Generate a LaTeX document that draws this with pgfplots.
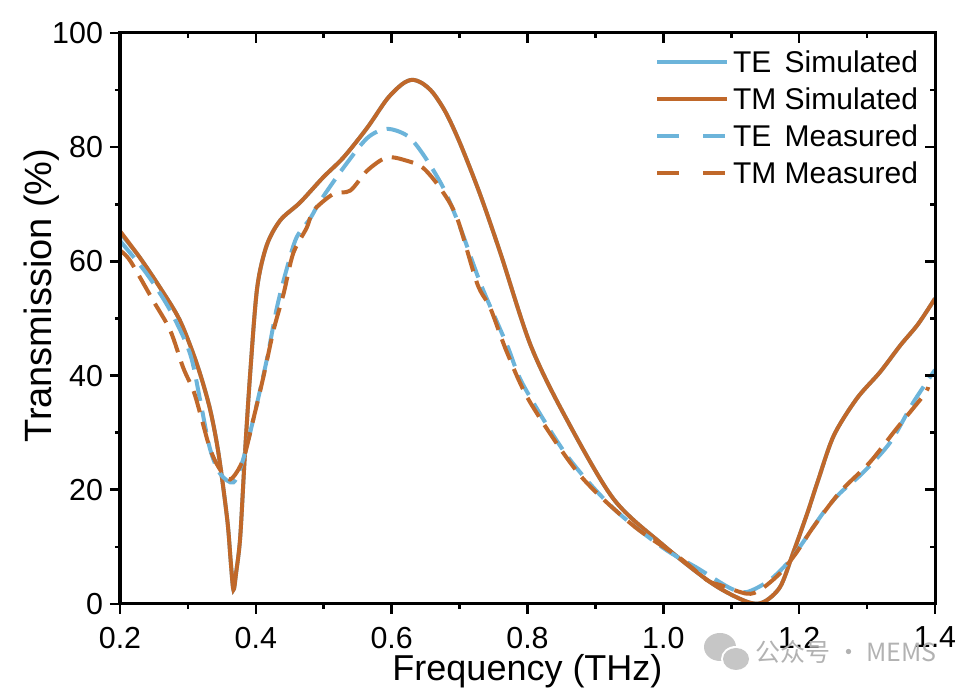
\documentclass[border=0pt]{standalone}
\usepackage{fontspec}
\setmainfont{Liberation Sans}
\newfontfamily\cjk{Noto Sans CJK SC}
\usepackage{pgfplots}
\pgfplotsset{compat=1.18}
\definecolor{tmor}{HTML}{C0682A}
\definecolor{teblue}{HTML}{6CB4DA}

\pgfplotstableread{
x y
0.200 65.3
0.229 60.7
0.259 55.4
0.288 49.7
0.313 42.1
0.332 34.4
0.345 26.4
0.358 14.7
0.363 7.5
0.367 2.5
0.371 5.5
0.377 11.7
0.384 26.4
0.392 40.9
0.402 55.4
0.416 62.8
0.436 67.2
0.465 70.3
0.499 74.7
0.529 78.2
0.564 83.4
0.593 88.4
0.615 91.0
0.630 91.8
0.645 91.2
0.661 89.5
0.680 86.0
0.701 80.6
0.730 71.8
0.760 61.5
0.804 45.5
0.852 33.6
0.926 18.5
1.000 10.3
1.073 3.5
1.123 0.4
1.147 0.3
1.172 3.0
1.191 8.9
1.212 15.9
1.228 21.7
1.251 29.5
1.285 36.0
1.319 40.6
1.349 45.3
1.375 49.0
1.400 53.5
}\tmsim

\pgfplotstableread{
x y
0.200 65.0
0.229 60.7
0.259 55.4
0.288 49.7
0.313 42.1
0.332 34.4
0.345 26.4
0.358 14.7
0.363 7.5
0.367 2.5
0.371 5.5
0.377 11.7
0.384 26.4
0.392 40.9
0.402 55.4
0.416 62.8
0.436 67.2
0.465 70.3
0.499 74.7
0.529 78.2
0.564 83.4
0.593 88.4
0.615 91.0
0.630 91.8
0.645 91.2
0.661 89.5
0.680 86.0
0.701 80.6
0.730 71.8
0.760 61.5
0.804 45.5
0.852 33.6
0.926 18.5
1.000 10.3
1.073 3.5
1.123 0.4
1.147 0.3
1.172 3.0
1.191 8.9
1.212 15.9
1.228 21.7
1.251 29.5
1.285 36.0
1.319 40.6
1.349 45.3
1.375 49.0
1.400 53.5
}\tesim

\pgfplotstableread{
x y
0.200 63.6
0.239 57.9
0.274 51.4
0.303 43.9
0.318 35.7
0.332 27.4
0.347 22.9
0.367 21.3
0.381 25.2
0.396 32.2
0.416 42.7
0.431 51.9
0.446 58.9
0.460 64.2
0.480 67.5
0.495 70.6
0.529 76.4
0.564 81.6
0.593 83.2
0.623 82.0
0.646 78.8
0.676 72.9
0.701 65.9
0.720 59.6
0.735 54.9
0.770 45.3
0.794 38.3
0.858 26.0
0.926 16.8
1.000 9.8
1.050 6.3
1.098 2.8
1.123 2.1
1.157 4.2
1.187 7.7
1.201 10.0
1.235 15.9
1.260 19.4
1.294 23.0
1.334 28.3
1.368 35.3
1.400 41.0
}\temeas

\pgfplotstableread{
x y
0.200 61.9
0.215 60.1
0.249 53.1
0.274 47.9
0.293 41.4
0.308 37.4
0.318 33.4
0.332 27.4
0.345 24.0
0.362 21.8
0.381 25.2
0.396 32.2
0.411 39.7
0.426 47.9
0.441 54.4
0.455 61.4
0.475 65.9
0.485 68.9
0.514 71.8
0.539 72.4
0.564 75.9
0.593 78.2
0.623 77.6
0.646 76.4
0.671 72.9
0.696 67.7
0.726 56.1
0.745 51.9
0.770 44.0
0.804 35.3
0.877 22.6
0.955 13.8
1.025 8.0
1.064 4.2
1.084 3.3
1.123 1.8
1.143 2.5
1.172 5.4
1.196 9.0
1.221 13.5
1.260 19.6
1.304 24.8
1.344 30.8
1.383 36.5
1.390 38.0
}\tmmeas

\begin{document}
\begin{tikzpicture}
\path[use as bounding box] (0,0) rectangle (483pt,345pt);
\pgfplotsset{
  common/.style={
    at={(60pt,43pt)}, anchor=south west,
    width=407.5pt, height=285.5pt, scale only axis,
    xmin=0.2, xmax=1.4, ymin=0, ymax=100,
    xtick={0.2,0.4,0.6,0.8,1.0,1.2,1.4},
    ytick={0,20,40,60,80,100},
    minor xtick={0.3,0.5,0.7,0.9,1.1,1.3},
    minor ytick={10,30,50,70,90},
    major tick length=5pt, minor tick length=2.5pt,
    axis line style={line width=1.5pt},
    every tick/.style={black, line width=1.3pt},
    every minor tick/.style={black, line width=1.3pt},
  }
}
\begin{axis}[common,
  tick align=outside, xtick pos=left, ytick pos=left,
  xticklabels={0.2,0.4,0.6,0.8,1.0,1.2,1.4},
  yticklabels={0,20,40,60,80,100},
  tick label style={font=\fontsize{15.2}{18}\selectfont},
  x tick label style={yshift=-3pt},
  xlabel={Frequency (THz)},
  ylabel={Transmission (\%)},
  xlabel style={font=\fontsize{18}{21}\selectfont, at={(axis description cs:0.5,-0.118)}, anchor=center},
  ylabel style={font=\fontsize{19}{22}\selectfont, at={(axis description cs:-0.0957,0.54)}, anchor=center},
  legend cell align=left,
  legend image code/.code={\draw[#1] (0pt,0pt) -- (35pt,0pt);},
  legend style={at={(axis description cs:0.656,0.975)}, anchor=north west,
    draw=none, fill=none, inner sep=0pt, row sep=4pt,
    font=\fontsize{15}{18}\selectfont,
    nodes={inner sep=2pt, text height=10.5pt, text depth=0pt}},
]
\addplot[teblue, line width=2pt, smooth] table {\tesim};
\addlegendentry{\rlap{TE}\hphantom{TM} Simulated}
\addplot[tmor, line width=2pt, smooth] table {\tmsim};
\addlegendentry{TM Simulated}
\addplot[teblue, line width=2pt, smooth, dash pattern=on 11pt off 5pt,
  legend image post style={dash pattern=on 11pt off 12pt}] table {\temeas};
\addlegendentry{\rlap{TE}\hphantom{TM} Measured}
\addplot[tmor, line width=2pt, smooth, dash pattern=on 11pt off 5pt,
  legend image post style={dash pattern=on 11pt off 12pt}] table {\tmmeas};
\addlegendentry{TM Measured}
\end{axis}
\begin{axis}[common,
  tick align=inside, xtick pos=right, ytick pos=right,
  xticklabels={}, yticklabels={},
]
\end{axis}
% watermark
\fill[gray!45] (360pt,21.5pt) ellipse [x radius=8pt, y radius=7pt];
\fill[white] (368pt,15.5pt) ellipse [x radius=7.5pt, y radius=6.5pt];
\fill[gray!45] (368pt,15.5pt) ellipse [x radius=6.5pt, y radius=5.5pt];
\node[text=gray!60, font=\cjk\fontsize{12.5}{15}\selectfont, anchor=west, inner sep=0pt] at (377.5pt,19pt) {公众号 · MEMS};
\end{tikzpicture}
\end{document}
